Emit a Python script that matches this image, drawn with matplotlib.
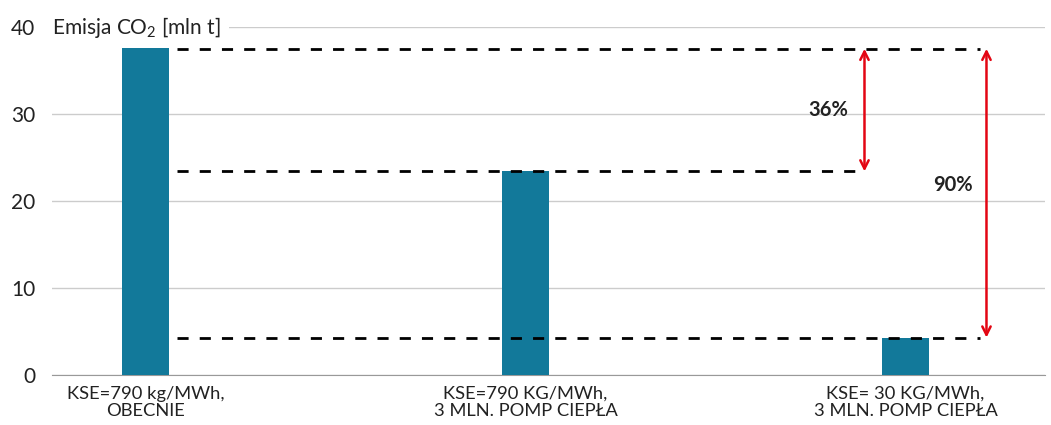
import matplotlib.pyplot as plt
from matplotlib.patches import FancyArrowPatch

# Dane
kategorie = ["KSE=790 kg/MWh,\nOBECNIE",
             "KSE=790 KG/MWh,\n3 MLN. POMP CIEPŁA",
             "KSE= 30 KG/MWh,\n3 MLN. POMP CIEPŁA"]
emisja = [37.7, 23.4, 4.2]
poziomy = [37.5, 23.4, 4.3]
redukcja = ["36%", "90%"]

plt.rcParams['font.family'] = ['Lato', 'DejaVu Sans']
plt.rcParams['mathtext.fontset'] = 'custom'
plt.rcParams['mathtext.rm'] = 'Lato'

fig = plt.figure(figsize=(10.51, 4.25), dpi=100)
ax = fig.add_axes([52 / 1051, 50 / 425, 993 / 1051, 348 / 425])

x = list(range(len(kategorie)))
ax.bar(x, emisja, width=0.123, color='#12799a', zorder=3)

ax.set_xlim(-0.246, 2.367)
ax.set_ylim(0, 40)
ax.set_yticks([0, 10, 20, 30, 40])
ax.set_xticks(x)
ax.set_xticklabels(kategorie, fontsize=13.2, color='#222222', linespacing=1.1)
ax.tick_params(axis='both', length=0)
ax.tick_params(axis='y', labelsize=15, pad=12, labelcolor='#222222')
ax.tick_params(axis='x', pad=8)

ax.grid(axis='y', color='#cccccc', linewidth=1, zorder=0)
for s in ['top', 'right', 'left']:
    ax.spines[s].set_visible(False)
ax.spines['bottom'].set_color('#999999')

# linie przerywane
ax.hlines(poziomy[0], 0.084, 2.197, colors='black', linestyles=(0, (4, 4)), linewidth=2, zorder=4)
ax.hlines(poziomy[1], 0.084, 1.889, colors='black', linestyles=(0, (4, 4)), linewidth=2, zorder=4)
ax.hlines(poziomy[2], 0.084, 2.197, colors='black', linestyles=(0, (4, 4)), linewidth=2, zorder=4)

# strzałki
for xa, y0, y1 in [(1.892, poziomy[0], poziomy[1]), (2.213, poziomy[0], poziomy[2])]:
    arr = FancyArrowPatch((xa, y0), (xa, y1), arrowstyle='<->,head_length=6,head_width=3',
                          color='#e30613', linewidth=1.8, zorder=5, shrinkA=0, shrinkB=0)
    ax.add_patch(arr)

ax.text(1.797, 30.5, redukcja[0], fontsize=14.5, fontweight='bold', ha='center', va='center', color='#222222')
ax.text(2.124, 21.8, redukcja[1], fontsize=14.5, fontweight='bold', ha='center', va='center', color='#222222')

ax.text(0.0, 1.0, 'Emisja CO$_2$ [mln t]', transform=ax.transAxes, fontsize=15, ha='left', va='center',
        color='#222222', bbox=dict(facecolor='white', edgecolor='none', pad=6), zorder=6, clip_on=False)

fig.savefig('out.png', dpi=100)
